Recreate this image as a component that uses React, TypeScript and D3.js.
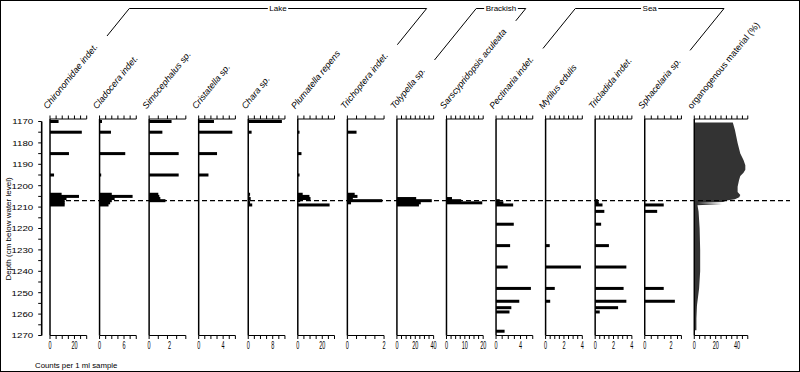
import React, { useEffect, useRef } from 'react';
import * as d3 from 'd3';

// sample depths (cm below water level)
const depths = [1170, 1175, 1185, 1195, 1204, 1205, 1206, 1207, 1208, 1209, 1212, 1218, 1228, 1238, 1248, 1254, 1257, 1259, 1268];

// counts per 1 ml sample, one entry per depth above
const chironomidae = [7, 26, 15.5, 3.3, 9.5, 23.7, 13.5, 12, 12, 12, 0, 0, 0, 0, 0, 0, 0, 0, 0];
const cladocera = [0.6, 2.8, 6.3, 0.4, 3, 8.1, 3.7, 3, 2.6, 2.2, 0, 0, 0, 0, 0, 0, 0, 0, 0];
const simocephalus = [2.2, 1.3, 2.9, 2.9, 0.9, 1.0, 1.1, 1.6, 0, 0, 0, 0, 0, 0, 0, 0, 0, 0, 0];
const cristatella = [2.5, 5.5, 3.0, 1.6, 0, 0, 0, 0, 0, 0, 0, 0, 0, 0, 0, 0, 0, 0, 0];
const chara = [11, 1.1, 0.25, 0.25, 0.6, 0.4, 0.8, 0.5, 0.6, 1.3, 0, 0, 0, 0, 0, 0, 0, 0, 0];
const plumatella = [0, 1.4, 3, 1.4, 4, 9.5, 10.4, 2, 0, 26, 0, 0, 0, 0, 0, 0, 0, 0, 0];
const trichoptera = [0, 0.5, 0, 0, 0.4, 0.55, 0.3, 1.9, 0.2, 0, 0, 0, 0, 0, 0, 0, 0, 0, 0];
const tolypella = [0, 0, 0, 0, 0, 0, 21, 38, 26, 24, 0, 0, 0, 0, 0, 0, 0, 0, 0];
const sarscypridopsis = [0, 0, 0, 0, 0, 0, 3, 8, 19.5, 0, 0, 0, 0, 0, 0, 0, 0, 0, 0];
const pectinaria = [0, 0, 0, 0, 0, 0, 0, 0.6, 1.2, 2.8, 0, 2.9, 2.3, 1.9, 5.7, 3.8, 2.5, 2.2, 1.4];
const mytilus = [0, 0, 0, 0, 0, 0, 0, 0, 0, 0, 0, 0, 0.45, 3.85, 1.0, 0.5, 0, 0, 0];
const tricladida = [0, 0, 0, 0, 0, 0, 0, 0.3, 0.4, 0.8, 1.0, 0.65, 1.5, 3.4, 3.1, 3.4, 2.5, 0.5, 0];
const sphacelaria = [0, 0, 0, 0, 0, 0, 0, 0, 0, 1.45, 0.95, 0, 0, 0, 1.45, 2.3, 0, 0, 0];

const taxa = ['Chironomidae indet.', 'Cladocera indet.', 'Simocephalus sp.', 'Cristatella sp.', 'Chara sp.', 'Plumatella repens', 'Trichoptera indet.', 'Tolypella sp.', 'Sarscypridopsis aculeata', 'Pectinaria indet.', 'Mytilus edulis', 'Tricladida indet.', 'Sphacelaria sp.'];
const counts = [chironomidae, cladocera, simocephalus, cristatella, chara, plumatella, trichoptera, tolypella, sarscypridopsis, pectinaria, mytilus, tricladida, sphacelaria];
const axisMax = [30, 9, 3.6, 6, 12, 30, 2, 40, 20, 6, 4, 4, 2.8];
const tickSteps = [5, 1.5, 0.9, 1, 2, 5, 0.5, 5, 2.5, 1, 0.5, 0.5, 0.5];
const tickLabels = [[0, 20], [0, 6], [0, 2], [0, 4], [0, 8], [0, 20], [0, 2], [0, 20, 40], [0, 10, 20], [0, 4], [0, 2, 4], [0, 2, 4], [0, 2]];

// organogenous material (%) curve
const orgLabel = 'organogenous material (%)';
const orgDepths = [1170.5, 1174, 1180, 1185, 1188, 1190.5, 1192.5, 1194, 1195.5, 1197.5, 1200.5, 1203, 1204.3, 1205.4, 1206.3, 1206.9, 1207.6, 1208.1, 1208.6, 1209.1, 1212, 1220, 1230, 1240, 1248, 1252, 1256, 1262, 1267.5];
const orgValues = [36, 38, 40.5, 43, 46, 47.7, 47.7, 46, 43, 41.8, 40.5, 40.5, 43, 42, 38, 30, 27, 3, 26, 3, 4, 5, 5.5, 5.5, 4.5, 3.5, 2.5, 2, 2];
const orgMax = 50;
const orgStep = 5;
const orgTickLabels = [0, 20, 40];

// habitat groups (first / last taxon index)
const groupNames = ['Lake', 'Brackish', 'Sea'];
const groupFirst = [0, 7, 9];
const groupLast = [6, 8, 12];

const boundaryDepth = 1207;
const depthDomain = [1170, 1270];

const FONT = '"Liberation Sans", Arial, sans-serif';

export default function App() {
  const ref = useRef<SVGSVGElement>(null);

  useEffect(() => {
    const svg = d3.select(ref.current);
    svg.selectAll('*').remove();

    const y = d3.scaleLinear().domain(depthDomain).range([121.5, 335.5]);
    const top = y(depthDomain[0]) - 2.5;
    const bottom = y(depthDomain[1]);
    const panelX = (i: number) => 50 + i * 49.56;
    const panelW = 36.7;

    svg.append('rect').attr('x', 0.5).attr('y', 0.5).attr('width', 799).attr('height', 371)
      .attr('fill', '#fff').attr('stroke', '#000');

    // depth axis
    const ax = svg.append('g').attr('transform', 'translate(41.7,0)');
    ax.append('line').attr('y1', y(1170)).attr('y2', y(1270)).attr('stroke', '#000').attr('stroke-width', 1.6);
    const dTicks = d3.range(1170, 1271, 5);
    ax.selectAll('line.t').data(dTicks).join('line').attr('class', 't')
      .attr('x1', -3.5).attr('x2', 0).attr('y1', d => y(d)).attr('y2', d => y(d)).attr('stroke', '#000');
    ax.selectAll('text').data(dTicks.filter(d => d % 10 === 0)).join('text')
      .attr('transform', d => `translate(-8.5,${y(d) + 1}) scale(1.35,1)`)
      .attr('text-anchor', 'end').attr('dominant-baseline', 'middle')
      .attr('font-family', FONT).attr('font-size', 7.2).attr('fill', '#000').text(d => d);

    svg.append('text').attr('transform', `translate(9,229) rotate(-90)`)
      .attr('text-anchor', 'middle').attr('dominant-baseline', 'middle')
      .attr('font-family', FONT).attr('font-size', 8).attr('fill', '#000').text('Depth (cm below water level)');

    svg.append('text').attr('x', 35).attr('y', 368)
      .attr('font-family', FONT).attr('font-size', 7.8).attr('fill', '#000').text('Counts per 1 ml sample');

    const drawAxes = (g: any, x: d3.ScaleLinear<number, number>, max: number, step: number, labels: number[]) => {
      const ticks = d3.range(0, max + 1e-6, step);
      if (Math.abs(ticks[ticks.length - 1] - max) > 1e-6) ticks.push(max);
      g.append('line').attr('x1', x(0)).attr('x2', x(0)).attr('y1', top).attr('y2', bottom)
        .attr('stroke', '#000').attr('stroke-width', 1.5);
      [top, bottom].forEach((yy, k) => {
        g.append('line').attr('x1', x(0)).attr('x2', x(max)).attr('y1', yy).attr('y2', yy).attr('stroke', '#000');
        g.selectAll(null).data(ticks).join('line')
          .attr('x1', d => x(d)).attr('x2', d => x(d))
          .attr('y1', yy).attr('y2', k === 0 ? yy - 3.5 : yy + 3.5).attr('stroke', '#000');
      });
      g.selectAll(null).data(labels).join('text')
        .attr('transform', d => `translate(${x(d)},346) scale(0.5,1)`)
        .attr('text-anchor', 'middle').attr('dominant-baseline', 'middle')
        .attr('font-family', FONT).attr('font-size', 11).attr('fill', '#000').text(d => d);
    };

    const labelNodes: SVGTextElement[] = [];
    const angle = 51;
    const addLabel = (i: number, text: string, italic: boolean) => {
      const t = svg.append('text')
        .attr('transform', `translate(${panelX(i) - 2.5},109.5) rotate(${-angle})`)
        .attr('font-family', FONT).attr('font-size', 9).attr('fill', '#000')
        .attr('font-style', italic ? 'italic' : 'normal').text(text);
      labelNodes[i] = t.node() as SVGTextElement;
    };

    taxa.forEach((name, i) => {
      const x = d3.scaleLinear().domain([0, axisMax[i]]).range([panelX(i), panelX(i) + panelW]);
      const g = svg.append('g');
      g.selectAll('rect').data(depths.map((d, j) => ({ d, v: counts[i][j] })).filter(p => p.v > 0)).join('rect')
        .attr('x', x(0)).attr('y', p => y(p.d) - 1.5).attr('width', p => x(p.v) - x(0)).attr('height', 3)
        .attr('fill', '#000');
      drawAxes(g, x, axisMax[i], tickSteps[i], tickLabels[i]);
      addLabel(i, name, true);
    });

    // organogenous material
    const oi = taxa.length;
    const ox = d3.scaleLinear().domain([0, orgMax]).range([panelX(oi), panelX(oi) + 53.5]);
    const og = svg.append('g');
    const area = d3.area<number>()
      .y((_, j) => y(orgDepths[j]))
      .x0(ox(0)).x1(v => ox(v));
    og.append('path').attr('d', area(orgValues)).attr('fill', '#333');
    drawAxes(og, ox, orgMax, orgStep, orgTickLabels);
    addLabel(oi, orgLabel, false);

    // boundary line
    svg.append('line').attr('x1', panelX(0)).attr('x2', 790)
      .attr('y1', y(boundaryDepth)).attr('y2', y(boundaryDepth))
      .attr('stroke', '#000').attr('stroke-width', 1.2).attr('stroke-dasharray', '5,3');

    // group brackets
    const rad = angle * Math.PI / 180;
    const cx = Math.cos(rad), cy = Math.sin(rad);
    const topY = 8.5;
    const legs = (i: number) => {
      const sx = panelX(i) - 2.5, sy = 109.5;
      const len = labelNodes[i].getComputedTextLength() + 14;
      const tt = (sy - topY) / cy;
      return { bx: sx + len * cx, by: sy - len * cy, tx: sx + tt * cx };
    };
    groupNames.forEach((name, k) => {
      const a = legs(groupFirst[k]);
      const b = legs(groupLast[k]);
      svg.append('path')
        .attr('d', `M${a.bx},${a.by}L${a.tx},${topY}L${b.tx},${topY}L${b.bx},${b.by}`)
        .attr('fill', 'none').attr('stroke', '#000');
      const mid = (a.tx + b.tx) / 2;
      const t = svg.append('text').attr('x', mid).attr('y', topY + 0.5)
        .attr('text-anchor', 'middle').attr('dominant-baseline', 'middle')
        .attr('font-family', FONT).attr('font-size', 8).attr('fill', '#000').text(name);
      const w = (t.node() as SVGTextElement).getComputedTextLength();
      svg.insert('rect', () => t.node())
        .attr('x', mid - w / 2 - 1.5).attr('y', topY - 4).attr('width', w + 3).attr('height', 8).attr('fill', '#fff');
    });
  }, []);

  return <svg ref={ref} width={800} height={372} style={{ position: 'absolute', left: 0, top: 0 }} />;
}
